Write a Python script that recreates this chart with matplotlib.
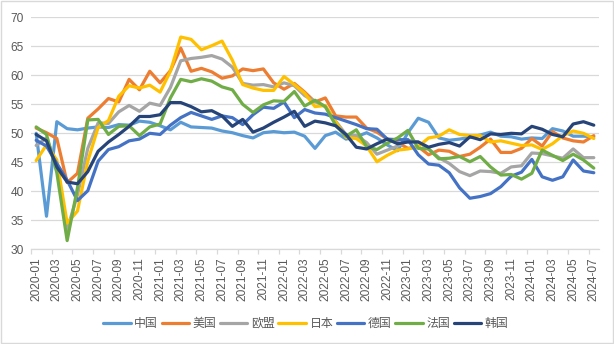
import numpy as np
import matplotlib
matplotlib.use("Agg")
import matplotlib.pyplot as plt
from matplotlib.patches import Rectangle

plt.rcParams['font.family'] = ['Liberation Sans', 'Noto Sans CJK SC']

# months 2020-01 .. 2024-07
months = ["%d-%02d" % (y, m) for y in range(2020, 2025) for m in range(1, 13)][:55]

china = [50.0, 35.7, 52.0, 50.8, 50.6, 50.9, 51.1, 51.0, 51.5, 51.4, 52.1, 51.9,
         51.3, 50.6, 51.9, 51.1, 51.0, 50.9, 50.4, 50.1, 49.6, 49.2, 50.1, 50.3,
         50.1, 50.2, 49.5, 47.4, 49.6, 50.2, 49.0, 49.4, 50.1, 49.2, 48.0, 47.0,
         50.1, 52.6, 51.9, 49.2, 48.8, 49.0, 49.3, 49.7, 50.2, 49.5, 49.4, 49.0,
         49.2, 49.1, 50.8, 50.4, 49.5, 49.5, 49.4]
usa = [50.9, 50.1, 49.1, 41.5, 43.1, 52.6, 54.2, 56.0, 55.4, 59.3, 57.5, 60.7,
       58.7, 60.8, 64.7, 60.7, 61.2, 60.6, 59.5, 59.9, 61.1, 60.8, 61.1, 58.7,
       57.6, 58.6, 57.1, 55.4, 56.1, 53.0, 52.8, 52.8, 50.9, 50.2, 49.0, 48.4,
       47.4, 47.7, 46.3, 47.1, 46.9, 46.0, 46.4, 47.6, 49.0, 46.7, 46.7, 47.4,
       49.1, 47.8, 50.3, 49.2, 48.7, 48.5, 49.6]
eu = [47.9, 49.2, 44.5, 33.4, 39.4, 47.4, 51.8, 51.7, 53.7, 54.8, 53.8, 55.2,
      54.8, 57.9, 62.5, 62.9, 63.1, 63.4, 62.8, 61.4, 58.6, 58.3, 58.4, 58.0,
      58.7, 58.2, 56.5, 55.5, 54.6, 52.1, 49.8, 49.6, 48.4, 46.4, 47.1, 47.8,
      48.8, 48.5, 47.3, 45.8, 44.8, 43.4, 42.7, 43.5, 43.4, 43.1, 44.2, 44.4,
      46.6, 46.5, 46.1, 45.7, 47.3, 45.8, 45.8]
japan = [45.3, 48.0, 45.4, 34.5, 36.6, 45.2, 51.0, 52.2, 56.4, 58.2, 57.8, 58.3,
         57.1, 60.7, 66.6, 66.2, 64.4, 65.1, 65.9, 62.6, 58.4, 57.8, 57.4, 57.4,
         59.8, 58.4, 56.9, 54.6, 54.8, 52.0, 49.3, 49.1, 47.8, 45.1, 46.2, 47.1,
         47.3, 47.7, 49.2, 49.5, 50.6, 49.8, 49.6, 49.6, 48.5, 48.7, 48.3, 47.9,
         48.0, 47.2, 48.2, 49.6, 50.4, 50.0, 49.1]
germany = [48.8, 47.8, 44.8, 41.9, 38.4, 40.1, 45.2, 47.2, 47.7, 48.7, 49.0, 50.0,
           49.8, 51.4, 52.7, 53.6, 53.0, 52.4, 53.0, 52.7, 51.5, 53.2, 54.5, 54.3,
           55.4, 52.7, 54.1, 53.5, 53.3, 52.7, 52.1, 51.5, 50.8, 50.7, 49.0, 48.9,
           48.9, 46.3, 44.7, 44.5, 43.2, 40.6, 38.8, 39.1, 39.6, 40.8, 42.6, 43.3,
           45.5, 42.5, 41.9, 42.5, 45.4, 43.5, 43.2]
france = [51.1, 49.8, 43.2, 31.5, 40.6, 52.3, 52.4, 49.8, 51.2, 51.3, 49.6, 51.1,
          51.6, 56.1, 59.3, 58.9, 59.4, 59.0, 58.0, 57.5, 55.0, 53.6, 54.9, 55.6,
          55.5, 57.2, 54.7, 55.7, 54.6, 51.4, 49.5, 50.6, 47.7, 47.2, 48.3, 49.2,
          50.5, 47.4, 47.3, 45.6, 45.7, 46.0, 45.1, 46.0, 44.2, 42.8, 42.9, 42.1,
          43.1, 47.1, 46.2, 45.3, 46.4, 45.4, 44.0]
korea = [49.8, 48.7, 44.2, 41.6, 41.3, 43.4, 46.9, 48.5, 49.8, 51.2, 52.9, 52.9,
         53.2, 55.3, 55.3, 54.6, 53.7, 53.9, 53.0, 51.2, 52.4, 50.2, 50.9, 51.9,
         52.8, 53.8, 51.2, 52.1, 51.8, 51.3, 49.8, 47.6, 47.3, 48.2, 49.0, 48.2,
         48.5, 48.5, 47.6, 48.1, 48.4, 47.8, 49.4, 48.9, 49.9, 49.8, 50.0, 49.9,
         51.2, 50.7, 49.8, 49.4, 51.6, 52.0, 51.4]

names = ["中国", "美国", "欧盟", "日本", "德国", "法国", "韩国"]
colors = ["#5B9BD5", "#ED7D31", "#A5A5A5", "#FFC000", "#4472C4", "#70AD47", "#264478"]
series = [china, usa, eu, japan, germany, france, korea]

fig = plt.figure(figsize=(6.14, 3.44), dpi=100)
ax = fig.add_axes([0.0505, 0.2753, 0.925, 0.6744])
X = np.arange(len(months))

for name, c, s in zip(names, colors, series):
    ax.plot(X, s, color=c, lw=2.3, label=name, solid_joinstyle='round',
            solid_capstyle='round')

ax.set_xlim(-0.5, len(months) - 0.5)
ax.set_ylim(30, 70)
ax.set_yticks(range(30, 75, 5))
ax.grid(axis='y', color='#D9D9D9', lw=0.9)
ax.set_axisbelow(True)

for side in ['top', 'right', 'left']:
    ax.spines[side].set_visible(False)
ax.spines['bottom'].set_color('#D9D9D9')
ax.spines['bottom'].set_linewidth(0.9)

ax.set_xticks(X[::2])
ax.set_xticklabels(months[::2], rotation=90)
ax.set_xticks(np.arange(-0.5, len(months) - 1, 2), minor=True)
ax.tick_params(axis='x', which='major', length=0, pad=6, labelsize=8.6, labelcolor='#595959')
ax.tick_params(axis='x', which='minor', length=3.5, width=0.9, color='#D9D9D9', direction='out')
ax.tick_params(axis='y', length=0, pad=5, labelsize=8.6, labelcolor='#595959')

fig.legend(loc='lower center', bbox_to_anchor=(0.498, 0.01), ncol=7, frameon=False,
           handlelength=2.3, handletextpad=0.3, columnspacing=0.3,
           prop={'size': 8.6}, labelcolor='#595959')

fig.patches.append(Rectangle((0.001, 0.002), 0.997, 0.996, transform=fig.transFigure,
                             fill=False, edgecolor='#D9D9D9', lw=1))

fig.savefig("out.png", dpi=100)
